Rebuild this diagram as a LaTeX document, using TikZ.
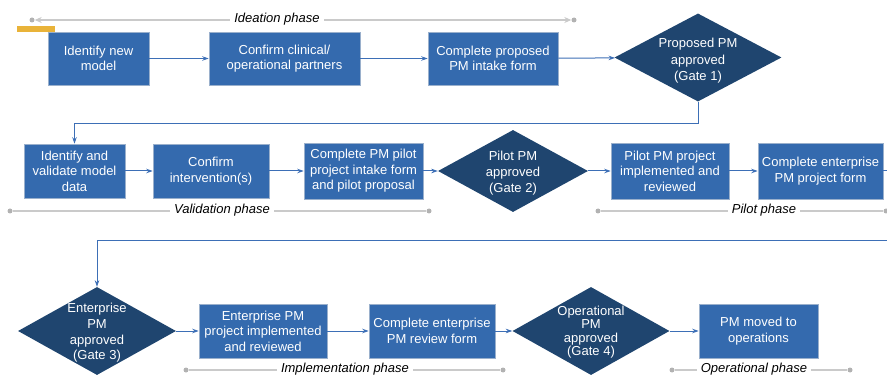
\documentclass[tikz,border=0pt]{standalone}
\usepackage{fontspec}
\setmainfont{Liberation Sans}
\usetikzlibrary{arrows.meta,shapes.geometric}

\definecolor{boxblue}{HTML}{346AAE}
\definecolor{boxedge}{HTML}{9AB0CC}
\definecolor{gatenavy}{HTML}{1F456F}
\definecolor{flowblue}{HTML}{3D6FB6}
\definecolor{phasegrey}{HTML}{CACACA}
\definecolor{dotgrey}{HTML}{B2B2B2}
\definecolor{startorange}{HTML}{E9B339}

\tikzset{
  stepbox/.style={rectangle, fill=boxblue, draw=boxedge, line width=0.6pt,
    text=white, align=center, inner sep=0pt,
    font=\fontsize{13}{15.5}\selectfont},
  gate/.style={diamond, fill=gatenavy, draw=none, inner sep=0pt, aspect=1.8},
  gatetext/.style={text=white, align=center, inner sep=0pt},
  flow/.style={draw=flowblue, line width=1pt, -{Stealth[length=6.5pt,width=4.5pt]}},
  phaseline/.style={draw=phasegrey, line width=1.4pt},
  phasedot/.style={circle, fill=dotgrey, inner sep=0pt, minimum size=5pt},
  phaselabel/.style={fill=white, inner xsep=4pt, inner ysep=1pt,
    font=\fontsize{13}{15.5}\selectfont\itshape}
}

\begin{document}
\begin{tikzpicture}[x=1pt,y=-1pt]
\useasboundingbox (0,0) rectangle (887,377);
\clip (0,0) rectangle (887,377);

% start marker
\fill[startorange] (17,26) rectangle (55,32);

% ---------- row 1 ----------
\node[stepbox, minimum width=101pt, minimum height=53pt] (b1) at (98.5,58.5) {Identify new\\model};
\node[stepbox, minimum width=151pt, minimum height=53pt] (b2) at (284.5,58.5) {Confirm clinical/\\operational partners};
\node[stepbox, minimum width=130pt, minimum height=53pt] (b3) at (493,58.5) {Complete proposed\\PM intake form};
\node[gate, minimum width=167pt, minimum height=88pt] (d1) at (698,57.5) {};
\node[gatetext, font=\fontsize{13}{16.5}\selectfont] (d1t) at (698,61) {Proposed PM\\approved\\(Gate 1)};

% ---------- row 2 ----------
\node[stepbox, minimum width=101pt, minimum height=54pt] (b4) at (74.5,171) {Identify and\\validate model\\data};
\node[stepbox, minimum width=116pt, minimum height=54pt] (b5) at (211,171) {Confirm\\intervention(s)};
\node[stepbox, minimum width=119pt, minimum height=56pt] (b6) at (363.5,171) {Complete PM pilot\\project intake form\\and pilot proposal};
\node[gate, minimum width=150pt, minimum height=82pt] (d2) at (513,171) {};
\node[gatetext, font=\fontsize{13}{16}\selectfont] (d2t) at (513,173) {Pilot PM\\approved\\(Gate 2)};
\node[stepbox, minimum width=118pt, minimum height=56pt] (b7) at (670,171) {Pilot PM project\\implemented and\\reviewed};
\node[stepbox, minimum width=125pt, minimum height=56pt] (b8) at (820.5,171) {Complete enterprise\\PM project form};

% ---------- row 3 ----------
\node[gate, minimum width=158pt, minimum height=88pt] (d3) at (97,331) {};
\node[gatetext, font=\fontsize{13}{15.7}\selectfont] (d3t) at (97,333) {Enterprise\\PM\\approved\\(Gate 3)};
\node[stepbox, minimum width=128pt, minimum height=54pt] (b9) at (263,331) {Enterprise PM\\project implemented\\and reviewed};
\node[stepbox, minimum width=126pt, minimum height=54pt] (b10) at (432,331) {Complete enterprise\\PM review form};
\node[gate, minimum width=157pt, minimum height=88pt] (d4) at (591,331) {};
\node[gatetext, font=\fontsize{13}{13.5}\selectfont] (d4t) at (591,332) {Operational\\PM\\approved\\(Gate 4)};
\node[stepbox, minimum width=119pt, minimum height=54pt] (b11) at (758.5,331) {PM moved to\\operations};

% ---------- flow connectors ----------
\draw[flow] (b1) -- (b2);
\draw[flow] (b2) -- (b3);
\draw[flow] (b3) -- (d1);
\coordinate (r1turn) at (698,124);
\draw[flow] (d1.south) -- (r1turn) -| (b4.north);
\draw[flow] (b4) -- (b5);
\draw[flow] (b5) -- (b6);
\draw[flow] (b6) -- (d2);
\draw[flow] (d2) -- (b7);
\draw[flow] (b7) -- (b8);
\coordinate (r2out) at (893,171);
\coordinate (r2low) at (893,240);
\draw[flow] (b8.east) -- (r2out) -- (r2low) -| (d3.north);
\draw[flow] (d3) -- (b9);
\draw[flow] (b9) -- (b10);
\draw[flow] (b10) -- (d4);
\draw[flow] (d4) -- (b11);

% ---------- phase bars ----------
% Ideation
\node[phasedot] (ia) at (32,20) {};
\node[phasedot] (ib) at (574,20) {};
\draw[phaseline, {Stealth[length=7pt,width=6pt]}-{Stealth[length=7pt,width=6pt]}] (ia.east) -- (ib.west);
\node[phaselabel] (il) at (277,19.5) {Ideation phase};

% Validation
\node[phasedot] (va) at (10,211) {};
\node[phasedot] (vb) at (429,211) {};
\draw[phaseline] (va) -- (vb);
\node[phaselabel] (vl) at (222,210.5) {Validation phase};

% Pilot
\node[phasedot] (pa) at (598,211) {};
\node[phasedot] (pb) at (886,211) {};
\draw[phaseline] (pa) -- (pb);
\node[phaselabel] (pl) at (764,210.5) {Pilot phase};

% Implementation
\node[phasedot] (ma) at (186,370) {};
\node[phasedot] (mb) at (503,370) {};
\draw[phaseline] (ma) -- (mb);
\node[phaselabel] (ml) at (345,369.5) {Implementation phase};

% Operational
\node[phasedot] (oa) at (672,370) {};
\node[phasedot] (ob) at (850,370) {};
\draw[phaseline] (oa) -- (ob);
\node[phaselabel] (ol) at (754,369.5) {Operational phase};

\end{tikzpicture}
\end{document}
